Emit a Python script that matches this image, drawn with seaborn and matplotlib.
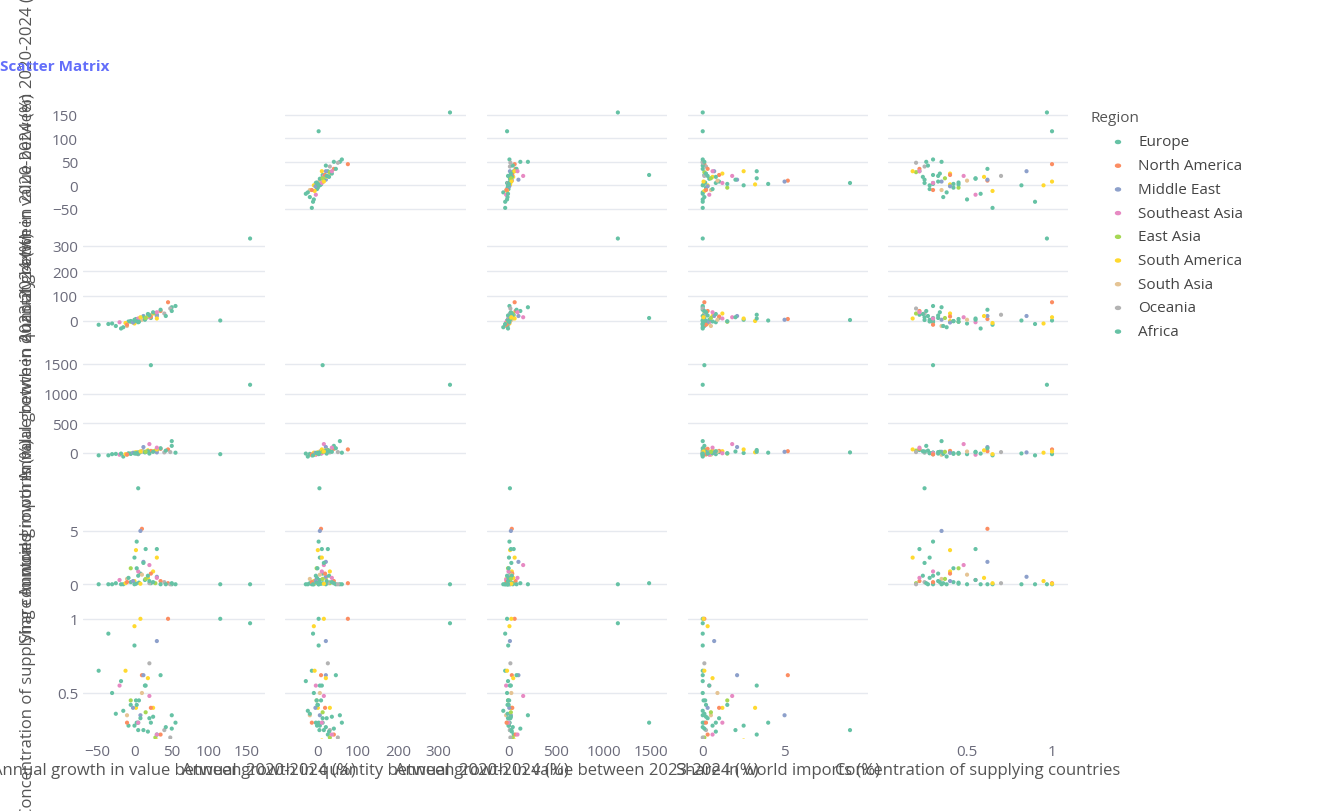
import matplotlib
matplotlib.use("Agg")
import matplotlib.pyplot as plt
import seaborn as sns
import pandas as pd

sns.set_theme(style="white")
plt.rcParams["font.family"] = ["Open Sans", "DejaVu Sans"]

# Data
region = ["Europe", "Europe", "Africa", "Europe", "North America", "Middle East", "Europe", "East Asia",
          "South America", "Europe", "Africa", "North America", "Europe", "Africa", "Europe", "Southeast Asia",
          "Middle East", "South America", "Oceania", "South Asia", "Europe", "Africa", "North America", "Europe",
          "South America", "Europe", "Africa", "East Asia", "Europe", "Southeast Asia", "Middle East",
          "South America", "Europe", "Africa", "Oceania", "Europe", "North America", "South Asia", "Europe",
          "Africa", "Europe", "South America", "Southeast Asia", "Europe", "Africa", "Middle East", "Europe",
          "South America", "Africa", "Europe", "North America", "Oceania", "Europe", "Africa", "East Asia",
          "Europe", "South America", "Africa", "Europe", "Southeast Asia"]
value_growth_2020_24 = [155, 115, 22, 5, 10, 8, 3, -5, 2, 15, 30, 45, 50, -48, -30, 20, 12, 25, 40, -10, 0, 5, 35,
                        -15, 18, 8, -5, 28, 55, -20, 30, 0, 12, 2, 20, -8, 22, 10, 35, -25, 25, -12, 5, 42, 14, -2,
                        18, 30, 0, 6, -10, 48, -35, 50, 15, 20, 8, -18, 3, 30]
qty_growth_2020_24 = [330, 2, 12, 4, 8, 5, 2, -3, 0, 10, 25, 75, 55, -15, -10, 15, 20, 30, 30, -20, 5, -5, 40, -25,
                      20, 12, 0, 30, 60, -5, 20, -10, 15, 8, 25, -2, 18, 5, 45, -20, 35, -8, 10, 20, 5, -6, 28, 10,
                      2, -3, -15, 50, -12, 40, 12, 22, 15, -30, -1, 35]
value_growth_2023_24 = [1150, -20, 1480, 10, 30, 20, 5, -10, 12, 20, 50, 60, 200, -40, -20, 150, 100, 30, 10, -30,
                        0, -20, 70, -60, 45, 15, -15, 40, 5, -30, 10, 5, 25, -10, 15, -5, 35, 25, 80, -15, 20, -20,
                        -5, 40, 10, 3, 30, 60, -8, 2, -25, 15, -40, 120, 20, -10, 25, -10, -3, 90]
share_world_imports = [0.0, 0.0, 0.1, 9.0, 5.2, 5.0, 4.0, 1.5, 3.2, 3.3, 3.3, 0.1, 0.0, 0.0, 0.0, 1.8, 2.1, 1.2,
                       0.2, 0.5, 2.5, 0.8, 0.3, 0.0, 0.6, 1.0, 0.2, 0.1, 0.0, 0.4, 0.7, 0.3, 2.0, 0.05, 0.1, 0.6,
                       1.0, 0.9, 0.0, 0.1, 0.2, 0.1, 1.2, 0.0, 0.4, 0.3, 0.8, 2.5, 0.0, 0.15, 0.2, 0.0, 0.0, 0.1,
                       0.5, 0.3, 0.05, 0.0, 1.5, 0.6]
concentration = [0.97, 1.0, 0.30, 0.25, 0.62, 0.35, 0.30, 0.45, 0.40, 0.55, 0.22, 1.0, 0.35, 0.65, 0.5, 0.48,
                 0.62, 0.40, 0.25, 0.35, 0.28, 0.30, 0.22, 0.38, 0.60, 0.33, 0.42, 0.20, 0.30, 0.55, 0.85, 0.95,
                 0.25, 0.45, 0.70, 0.28, 0.40, 0.50, 0.62, 0.36, 0.34, 0.65, 0.30, 0.27, 0.55, 0.40, 0.24, 0.18,
                 0.82, 0.45, 0.30, 0.20, 0.90, 0.26, 0.37, 0.33, 1.0, 0.58, 0.42, 0.22]

regions = ["Europe", "North America", "Middle East", "Southeast Asia", "East Asia",
           "South America", "South Asia", "Oceania", "Africa"]
colors = ["#66c2a5", "#fc8d62", "#8da0cb", "#e78ac3", "#a6d854", "#ffd92f", "#e5c494", "#b3b3b3", "#66c2a5"]
labels = ["Annual growth in value between 2020-2024 (%)", "Annual growth in quantity between 2020-2024 (%)",
          "Annual growth in value between 2023-2024 (%)", "Share in world imports (%)",
          "Concentration of supplying countries"]

df = pd.DataFrame({labels[0]: value_growth_2020_24, labels[1]: qty_growth_2020_24,
                   labels[2]: value_growth_2023_24, labels[3]: share_world_imports,
                   labels[4]: concentration, "Region": region})

W, H = 1324, 812
col_px = [(83, 265), (285, 466), (487, 667), (688, 868), (888, 1068)]
row_px = [(105, 215), (232, 342), (358, 470), (485, 597), (610, 740)]
lims = [(-69, 175), (-82, 370), (-232, 1669), (-0.9, 10.1), (0.035, 1.094)]
ylims = [(-61, 173), (-80, 360), (-270, 1618), (-1.1, 9.4), (0.19, 1.066)]
ticks = [[-50, 0, 50, 100, 150], [0, 100, 200, 300], [0, 500, 1000, 1500], [0, 5], [0.5, 1]]
ticklabels = [["−50", "0", "50", "100", "150"], ["0", "100", "200", "300"], ["0", "500", "1000", "1500"],
              ["0", "5"], ["0.5", "1"]]

fig = plt.figure(figsize=(W / 100, H / 100), dpi=100)
pal = dict(zip(regions, colors))


def clean(ax):
    for s in ax.spines.values():
        s.set_visible(False)
    ax.tick_params(length=0, labelsize=11, labelcolor="#6b6b7b")


for i in range(5):
    for j in range(5):
        if i == j:
            continue
        x0, x1 = col_px[j]
        y0, y1 = row_px[i]
        ax = fig.add_axes([x0 / W, 1 - y1 / H, (x1 - x0) / W, (y1 - y0) / H])
        sns.scatterplot(data=df, x=labels[j], y=labels[i], hue="Region", hue_order=regions, palette=pal,
                        s=9, linewidth=0, ax=ax, legend=False)
        ax.set_xlim(lims[j])
        ax.set_ylim(ylims[i])
        ax.set_xticks(ticks[j])
        ax.set_yticks(ticks[i])
        ax.grid(axis="y", color="#e6e9ef", linewidth=1)
        ax.set_xlabel("")
        ax.set_ylabel("")
        clean(ax)
        ax.set_yticklabels(ticklabels[i] if j == 0 else [])
        ax.set_xticklabels(ticklabels[j] if i == 4 else [])

# tick labels for the empty diagonal cells
ax = fig.add_axes([col_px[0][0] / W, 1 - row_px[0][1] / H, 182 / W, 110 / H])
ax.set_xlim(lims[0]); ax.set_ylim(ylims[0]); ax.set_yticks(ticks[0]); ax.set_yticklabels(ticklabels[0])
ax.set_xticks([]); ax.patch.set_alpha(0)
clean(ax)
ax = fig.add_axes([col_px[4][0] / W, 1 - row_px[4][1] / H, 180 / W, 130 / H])
ax.set_xlim(lims[4]); ax.set_ylim(ylims[4]); ax.set_xticks(ticks[4]); ax.set_xticklabels(ticklabels[4])
ax.set_yticks([]); ax.patch.set_alpha(0)
clean(ax)

# axis titles (overlapping like the original)
for j in range(5):
    xc = (col_px[j][0] + col_px[j][1]) / 2 / W
    fig.text(xc, 1 - 771 / H, labels[j], ha="center", va="center", fontsize=12, color="#555")
for i in range(5):
    yc = 1 - (row_px[i][0] + row_px[i][1]) / 2 / H
    fig.text(28 / W, yc, labels[i], ha="center", va="center", rotation=90, fontsize=12, color="#555")

fig.text(0, 1 - 67 / H, "Scatter Matrix", ha="left", va="center", fontsize=11, fontweight="bold", color="#636efa")

# legend
fig.text(1090 / W, 1 - 119 / H, "Region", fontsize=11, color="#555", va="center")
for k, r in enumerate(regions):
    y = 1 - (143 + k * 23.7) / H
    fig.patches.append(plt.Circle((1118 / W, y), 2.5 / W, transform=fig.transFigure, color=colors[k]))
    fig.text(1138 / W, y, r, fontsize=11, color="#444", va="center")

plt.savefig("out.png", dpi=100)
